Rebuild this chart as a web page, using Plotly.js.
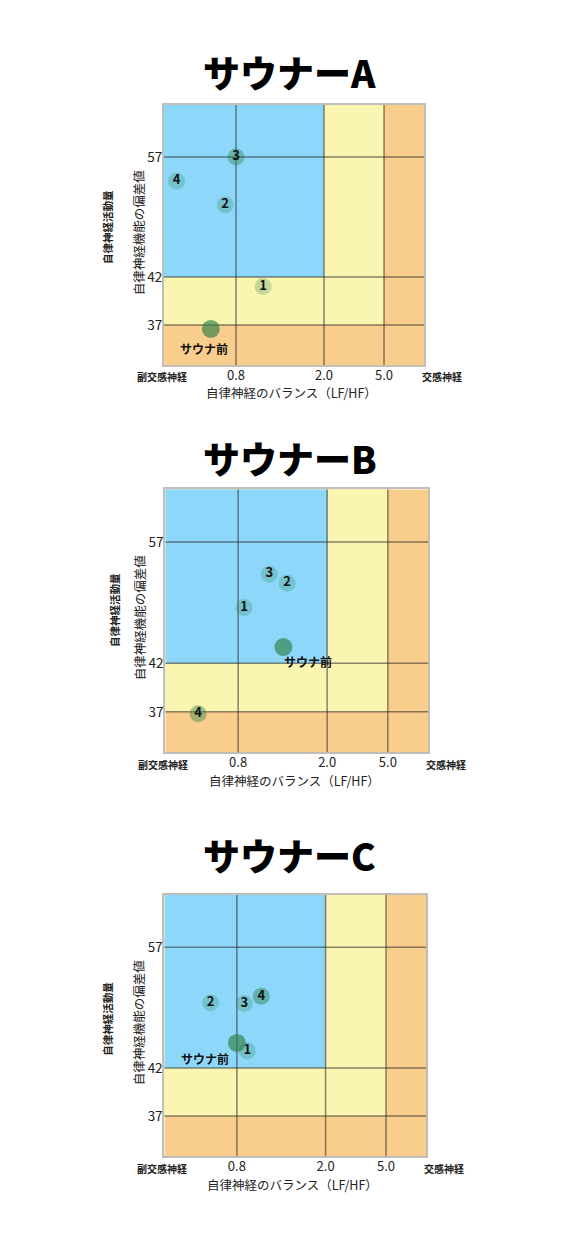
<!DOCTYPE html>
<html><head><meta charset="utf-8">
<script src="https://cdn.plot.ly/plotly-3.0.1.min.js"></script>
<style>html,body{margin:0;padding:0;background:#fff}#chart{width:578px;height:1235px}</style>
</head><body><div id="chart"></div>
<script>
// ---- data ----
const chartTitles = ['サウナーA', 'サウナーB', 'サウナーC'];
const pointLabels = ['1', '2', '3', '4'];
// LF/HF balance after each set
const lfhfA = [1.17, 0.68, 0.80, 0.14];
const lfhfB = [0.88, 1.46, 1.22, 0.36];
const lfhfC = [0.94, 0.51, 0.90, 1.13];
// autonomic function deviation score after each set
const devA = [41.0, 51.0, 57.0, 54.0];
const devB = [48.9, 51.9, 53.0, 36.8];
const devC = [44.1, 50.1, 50.0, 50.9];
// before sauna
const preLabel = 'サウナ前';
const preLfhf = [0.52, 1.41, 0.80];
const preDev = [36.6, 44.0, 45.1];
// axis ticks
const xTickVals = [0.8, 2.0, 5.0];
const xTickText = ['0.8', '2.0', '5.0'];
const yTickVals = [37, 42, 57];
const yTickText = ['37', '42', '57'];
const xTitle = '自律神経のバランス（LF/HF）';
const yTitle = '自律神経機能の偏差値';
const yOuter = '自律神経活動量';
const xLeftLabel = '副交感神経';
const xRightLabel = '交感神経';

// ---- scale (piecewise, as in the original chart) ----
const xScaleVals = [0, 0.8, 2.0, 5.0, 10];
const xScalePos = [0, 72, 160, 220, 260];
const yScaleVals = [33, 37, 42, 57, 63.5];
const yScalePos = [0, 40, 88, 208, 260];
function pw(v, vals, pos) {
  for (let i = 0; i < vals.length - 1; i++) {
    if (v <= vals[i + 1] || i === vals.length - 2) {
      return pos[i] + (v - vals[i]) / (vals[i + 1] - vals[i]) * (pos[i + 1] - pos[i]);
    }
  }
}
const sx = v => pw(v, xScaleVals, xScalePos);
const sy = v => pw(v, yScaleVals, yScalePos);

const lfhf = [lfhfA, lfhfB, lfhfC];
const dev = [devA, devB, devC];
const ptOpacity = [[0.25, 0.25, 0.4, 0.25], [0.25, 0.25, 0.25, 0.42], [0.25, 0.25, 0.25, 0.45]];
const preShift = [[-7, -20], [25, -14], [-32, -16]];

const xDomains = [[0.2837, 0.7336], [0.286, 0.741], [0.2843, 0.7376]];
const yDomains = [[0.7045, 0.915], [0.3909, 0.6038], [0.0637, 0.2753]];
const titleY = [0.9417, 0.6291, 0.3077];
const outerLabelPos = [[-0.22, 0.53], [-0.196, 0.54], [-0.22, 0.525]];

const FONT = 'Noto Sans CJK JP, Noto Sans, sans-serif';
const BLUE = '#8dd8fa', YEL = '#faf5b0', ORA = '#f9cd8b';
const MARK = 'rgb(45,128,70)';
const GRID = 'rgba(40,40,40,0.55)';

const traces = [];
const shapes = [];
const annotations = [];
const layout = {
  width: 578, height: 1235,
  margin: {l: 0, r: 0, t: 0, b: 0},
  paper_bgcolor: '#ffffff', plot_bgcolor: '#ffffff',
  showlegend: false,
  font: {family: FONT, color: '#222'},
  shapes: shapes, annotations: annotations
};

for (let k = 0; k < 3; k++) {
  const xa = k === 0 ? 'x' : 'x' + (k + 1);
  const ya = k === 0 ? 'y' : 'y' + (k + 1);
  const xaKey = k === 0 ? 'xaxis' : 'xaxis' + (k + 1);
  const yaKey = k === 0 ? 'yaxis' : 'yaxis' + (k + 1);

  layout[xaKey] = {
    domain: xDomains[k], anchor: ya, range: [0, 260], fixedrange: true,
    showgrid: false, zeroline: false, ticks: '', ticklabelstandoff: -3,
    tickvals: xTickVals.map(sx), ticktext: xTickText,
    tickfont: {size: 13, family: FONT, color: '#222'},
    showline: true, mirror: true, linecolor: 'rgba(120,110,100,0.45)', linewidth: 2
  };
  layout[yaKey] = {
    domain: yDomains[k], anchor: xa, range: [0, 260], fixedrange: true,
    showgrid: false, zeroline: false, ticks: '', ticklabelstandoff: -3,
    tickvals: yTickVals.map(sy), ticktext: yTickText,
    tickfont: {size: 13.5, family: FONT, color: '#222'},
    showline: true, mirror: true, linecolor: 'rgba(120,110,100,0.45)', linewidth: 2
  };

  // zones
  const X0 = sx(xScaleVals[0]), X1 = sx(xScaleVals[xScaleVals.length - 1]);
  const Y0 = sy(yScaleVals[0]), Y1 = sy(yScaleVals[yScaleVals.length - 1]);
  const rect = (x0, x1, y0, y1, c) => shapes.push({type: 'rect', xref: xa, yref: ya, x0, x1, y0, y1,
    fillcolor: c, line: {width: 0}, layer: 'below'});
  rect(X0, X1, Y0, Y1, ORA);
  rect(X0, sx(5.0), sy(37), Y1, YEL);
  rect(X0, sx(2.0), sy(42), Y1, BLUE);
  // grid lines
  xTickVals.forEach(v => shapes.push({type: 'line', xref: xa, yref: ya, x0: sx(v), x1: sx(v), y0: Y0, y1: Y1,
    line: {color: GRID, width: 1.5}, layer: 'below'}));
  yTickVals.forEach(v => shapes.push({type: 'line', xref: xa, yref: ya, x0: X0, x1: X1, y0: sy(v), y1: sy(v),
    line: {color: GRID, width: 1.5}, layer: 'below'}));

  // after-set points
  traces.push({
    type: 'scatter', mode: 'markers+text', xaxis: xa, yaxis: ya,
    x: lfhf[k].map(sx), y: dev[k].map(sy), text: pointLabels,
    textposition: 'middle center',
    textfont: {size: 13, family: FONT, color: '#111', weight: 'bold'},
    marker: {size: 17, color: MARK, opacity: ptOpacity[k], line: {width: 0}},
    hoverinfo: 'skip', cliponaxis: false
  });
  // before sauna point
  traces.push({
    type: 'scatter', mode: 'markers', xaxis: xa, yaxis: ya,
    x: [sx(preLfhf[k])], y: [sy(preDev[k])],
    marker: {size: 18, color: MARK, opacity: 0.66, line: {width: 0}},
    hoverinfo: 'skip', cliponaxis: false
  });
  annotations.push({
    xref: xa, yref: ya, x: sx(preLfhf[k]), y: sy(preDev[k]), text: preLabel, showarrow: false,
    xshift: preShift[k][0], yshift: preShift[k][1],
    font: {size: 12, family: FONT, color: '#111', weight: 'bold'}
  });

  // chart title
  annotations.push({xref: 'paper', yref: 'paper', x: 0.5017, y: titleY[k], text: chartTitles[k],
    showarrow: false, xanchor: 'center', yanchor: 'middle',
    font: {size: 37, family: FONT, color: '#000', weight: 900}});
  // axis titles
  annotations.push({xref: xa + ' domain', yref: ya + ' domain', x: 0.49, y: -0.107, text: xTitle,
    showarrow: false, xanchor: 'center', yanchor: 'middle', font: {size: 12.5, family: FONT, color: '#222'}});
  annotations.push({xref: xa + ' domain', yref: ya + ' domain', x: -0.1, y: 0.51, text: yTitle, textangle: -90,
    showarrow: false, xanchor: 'center', yanchor: 'middle', font: {size: 12.5, family: FONT, color: '#222'}});
  // side labels
  annotations.push({xref: xa + ' domain', yref: ya + ' domain', x: -0.008, y: -0.046, text: xLeftLabel,
    showarrow: false, xanchor: 'center', yanchor: 'middle', font: {size: 10, family: FONT, color: '#222', weight: 'bold'}});
  annotations.push({xref: xa + ' domain', yref: ya + ' domain', x: 1.069, y: -0.046, text: xRightLabel,
    showarrow: false, xanchor: 'center', yanchor: 'middle', font: {size: 10, family: FONT, color: '#222', weight: 'bold'}});
  annotations.push({xref: xa + ' domain', yref: ya + ' domain', x: outerLabelPos[k][0], y: outerLabelPos[k][1],
    text: yOuter, textangle: -90,
    showarrow: false, xanchor: 'center', yanchor: 'middle', font: {size: 10.5, family: FONT, color: '#222', weight: 'bold'}});
}

Plotly.newPlot('chart', traces, layout, {displayModeBar: false, staticPlot: true});
</script>
</body></html>
